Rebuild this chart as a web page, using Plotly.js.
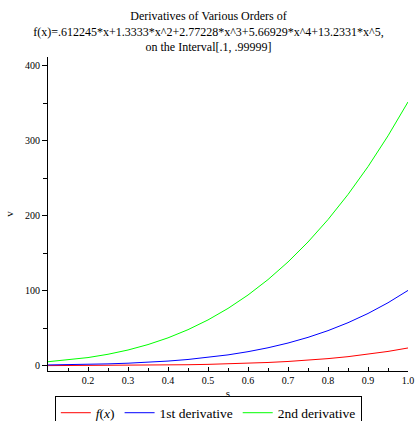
<!DOCTYPE html>
<html>
<head>
<meta charset="utf-8">
<script src="https://cdn.plot.ly/plotly-3.0.1.min.js"></script>
<style>html,body{margin:0;padding:0;background:#fff;}#chart{width:417px;height:421px;}</style>
</head>
<body>
<div id="chart"></div>
<script>
// x positions (s)
var xs = [0.1, 0.15, 0.2, 0.25, 0.3, 0.35, 0.4, 0.45, 0.5, 0.55, 0.6, 0.65, 0.7, 0.75, 0.8, 0.85, 0.9, 0.95, 0.99999];
// f(x)
var fVals = [0.08, 0.14, 0.21, 0.32, 0.46, 0.65, 0.92, 1.28, 1.75, 2.39, 3.21, 4.27, 5.62, 7.31, 9.42, 12.02, 15.19, 19.02, 23.62];
// 1st derivative
var d1Vals = [0.99, 1.31, 1.77, 2.41, 3.31, 4.53, 6.16, 8.28, 10.99, 14.42, 18.68, 23.90, 30.22, 37.79, 46.78, 57.35, 69.69, 83.99, 100.44];
// 2nd derivative
var d2Vals = [5.28, 7.59, 10.83, 15.21, 20.93, 28.17, 37.14, 48.05, 61.07, 76.43, 94.31, 114.91, 138.42, 165.06, 195.02, 228.50, 265.68, 306.78, 351.99];

var seriesNames = ['<i>f</i>(<i>x</i>)', '1st derivative', '2nd derivative'];
var seriesColors = ['#ff0000', '#0000ff', '#00ff00'];
var xTicks = [0.2, 0.3, 0.4, 0.5, 0.6, 0.7, 0.8, 0.9, 1.0];
var xTickText = ['0.2', '0.3', '0.4', '0.5', '0.6', '0.7', '0.8', '0.9', '1.0'];
var yTicks = [0, 100, 200, 300, 400];
var titleText = 'Derivatives of Various Orders of<br>f(x)=.612245*x+1.3333*x^2+2.77228*x^3+5.66929*x^4+13.2331*x^5,<br>on the Interval[.1, .99999]';

var ys = [fVals, d1Vals, d2Vals];
var traces = ys.map(function (y, i) {
  return {x: xs, y: y, type: 'scatter', mode: 'lines', name: seriesNames[i],
          line: {color: seriesColors[i], width: 1}};
});

var serif = '"Liberation Serif", "Times New Roman", Times, serif';
var tickFont = {family: '"Liberation Sans Narrow", "Liberation Serif", serif', size: 10, color: '#000'};

var layout = {
  width: 417, height: 421,
  margin: {l: 48, r: 9, t: 57, b: 50, autoexpand: false},
  paper_bgcolor: '#fff', plot_bgcolor: '#fff',
  showlegend: true,
  title: {text: titleText, font: {family: serif, size: 12, color: '#000'},
          x: 0.5, xanchor: 'center', y: 0.952, yanchor: 'top', yref: 'container'},
  xaxis: {range: [0.1, 1.0], tickvals: xTicks, ticktext: xTickText,
          ticks: 'inside', ticklen: 4, tickcolor: '#000', tickwidth: 1,
          minor: {dtick: 0.05, tick0: 0.1, ticks: 'inside', ticklen: 3, tickcolor: '#000'},
          showline: true, linecolor: '#000', linewidth: 1, showgrid: false, zeroline: false,
          tickfont: tickFont,
          title: {text: 's', font: {family: serif, size: 11, color: '#000'}, standoff: 4}},
  yaxis: {range: [-7.1, 412], tickvals: yTicks,
          ticks: 'outside', ticklen: 5, tickcolor: '#000', tickwidth: 1,
          minor: {dtick: 50, tick0: 0, ticks: 'outside', ticklen: 4, tickcolor: '#000'},
          showline: true, linecolor: '#000', linewidth: 1, showgrid: false, zeroline: false,
          tickfont: tickFont,
          title: {text: 'v', font: {family: serif, size: 11, color: '#000'}, standoff: 9}},
  legend: {orientation: 'h', x: 0.019, xanchor: 'left', y: -0.081, yanchor: 'top',
           bordercolor: '#000', borderwidth: 1, bgcolor: 'rgba(255,255,255,0)',
           font: {family: serif, size: 13.5, color: '#000'}, itemwidth: 30, tracegroupgap: 0}
};

Plotly.newPlot('chart', traces, layout, {displayModeBar: false, staticPlot: true});
</script>
</body>
</html>
